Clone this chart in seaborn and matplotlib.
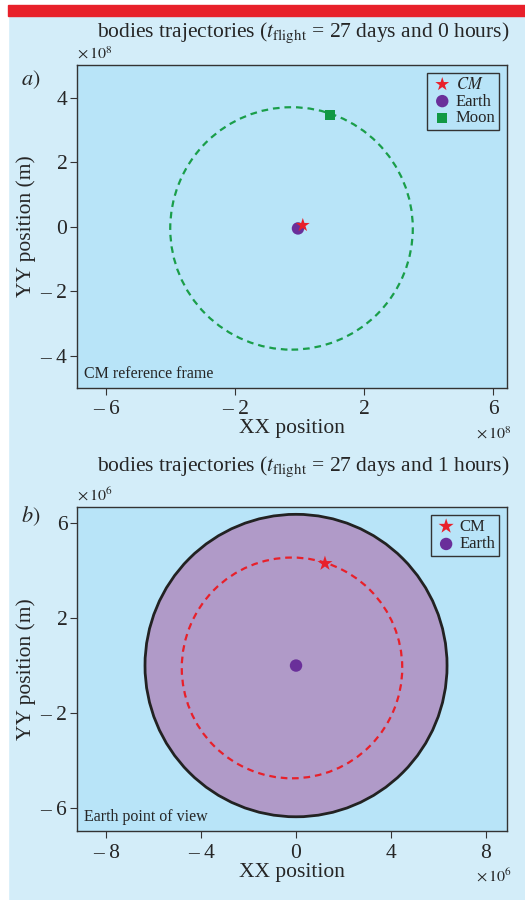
import numpy as np
import pandas as pd
import seaborn as sns
import matplotlib
matplotlib.use("Agg")
import matplotlib.pyplot as plt
from matplotlib.patches import Circle, Rectangle

# panel a) CM reference frame (m)
bodies_a = ["$CM$", "Earth", "Moon"]
pos_x_a = [0.10e8, -0.05e8, 0.94e8]
pos_y_a = [0.05e8, -0.05e8, 3.47e8]
moon_orbit_center = [-0.25e8, -0.05e8]
moon_orbit_radius = 3.76e8

# panel b) Earth point of view (m)
bodies_b = ["CM", "Earth"]
pos_x_b = [1.22e6, 0.0]
pos_y_b = [4.30e6, 0.0]
cm_orbit_center = [-0.17e6, -0.10e6]
cm_orbit_radius = 4.65e6
earth_radius = 6.371e6

ticks_a_x = [-6e8, -2e8, 2e8, 6e8]
ticks_a_x_lab = ["\u2013 6", "\u2013 2", "2", "6"]
ticks_a_y = [-4e8, -2e8, 0, 2e8, 4e8]
ticks_a_y_lab = ["\u2013 4", "\u2013 2", "0", "2", "4"]
ticks_b_x = [-8e6, -4e6, 0, 4e6, 8e6]
ticks_b_x_lab = ["\u2013 8", "\u2013 4", "0", "4", "8"]
ticks_b_y = [-6e6, -2e6, 2e6, 6e6]
ticks_b_y_lab = ["\u2013 6", "\u2013 2", "2", "6"]

titles = ["bodies trajectories ($t_{\\rm flight}$ = 27 days and 0 hours)",
          "bodies trajectories ($t_{\\rm flight}$ = 27 days and 1 hours)"]

colors = {"$CM$": "#e8202a", "CM": "#e8202a", "Earth": "#6a2f9a", "Moon": "#119944"}
markers = {"$CM$": "*", "CM": "*", "Earth": "o", "Moon": "s"}
sizes = {"$CM$": 110, "CM": 130, "Earth": 80, "Moon": 55}

sns.set_style("ticks")
plt.rcParams["font.family"] = ["Liberation Serif", "DejaVu Serif"]
plt.rcParams["mathtext.fontset"] = "stix"

fig_bg = "#d3edf9"
ax_bg = "#b8e4f8"
fig = plt.figure(figsize=(5.25, 9), dpi=100, facecolor=fig_bg)
# white margin and red bar at top
fig.patches.append(Rectangle((0, 0), 8 / 525, 1, transform=fig.transFigure,
                             color="white", zorder=-1))
fig.patches.append(Rectangle((0, 1 - 5 / 900), 1, 5 / 900, transform=fig.transFigure,
                             color="white", zorder=-1))
fig.patches.append(Rectangle((8 / 525, 1 - 16 / 900), 1, 11 / 900,
                             transform=fig.transFigure, color="#e8202a", zorder=-1))

ax1 = fig.add_axes([77 / 525, 1 - 388 / 900, 430 / 525, 323 / 900])
ax2 = fig.add_axes([77 / 525, 1 - 831 / 900, 430 / 525, 324 / 900])

def style_axis(ax, xt, xl, yt, yl, xlim, ylim, exp):
    ax.set_facecolor(ax_bg)
    for s in ax.spines.values():
        s.set_color("#333333")
        s.set_linewidth(1.0)
    ax.set_xlim(*xlim)
    ax.set_ylim(*ylim)
    ax.set_xticks(xt)
    ax.set_xticklabels(xl)
    ax.set_yticks(yt)
    ax.set_yticklabels(yl)
    ax.tick_params(direction="out", length=5, width=0.8, labelsize=15.5, color="#333333", pad=2)
    ax.tick_params(axis="x", pad=4)
    ax.set_xlabel("XX position", fontsize=15.5, labelpad=0)
    ax.set_ylabel("YY position (m)", fontsize=15.5, labelpad=3)
    ax.text(0.0, 1.008, "$\\times\\,10^{%d}$" % exp, transform=ax.transAxes,
            fontsize=11.5, ha="left", va="bottom")
    ax.text(1.01, -0.168, "$\\times\\,10^{%d}$" % exp, transform=ax.transAxes,
            fontsize=11.5, ha="right", va="bottom")

# panel a
ax1.add_patch(Circle(moon_orbit_center, moon_orbit_radius, fill=False,
                     edgecolor="#1a9e4a", lw=1.6, ls=(0, (3, 2.2)), zorder=2))
df_a = pd.DataFrame({"x": pos_x_a, "y": pos_y_a, "body": bodies_a})
for b in ["Earth", "$CM$", "Moon"]:
    d = df_a[df_a.body == b]
    sns.scatterplot(data=d, x="x", y="y", ax=ax1, color=colors[b], marker=markers[b],
                    s=sizes[b], edgecolor="none", label=b, zorder=3)
style_axis(ax1, ticks_a_x, ticks_a_x_lab, ticks_a_y, ticks_a_y_lab,
           (-6.9e8, 6.43e8), (-5.0e8, 5.02e8), 8)
h, l = ax1.get_legend_handles_labels()
order = [l.index("$CM$"), l.index("Earth"), l.index("Moon")]
leg = ax1.legend([h[i] for i in order], [l[i] for i in order], loc="upper right",
                 fontsize=12, fancybox=False, edgecolor="#333333", facecolor=ax_bg,
                 framealpha=1, handletextpad=0.1, borderpad=0.2, labelspacing=0.05,
                 handlelength=1.4, borderaxespad=0.5)
leg.get_frame().set_linewidth(1.0)
ax1.text(0.016, 0.03, "CM reference frame", transform=ax1.transAxes, fontsize=11.5)

# panel b
ax2.add_patch(Circle((pos_x_b[1], pos_y_b[1]), earth_radius, facecolor="#b09ac8",
                     edgecolor="#222222", lw=2, zorder=1))
ax2.add_patch(Circle(cm_orbit_center, cm_orbit_radius, fill=False,
                     edgecolor="#e8202a", lw=1.6, ls=(0, (3, 2.2)), zorder=2))
df_b = pd.DataFrame({"x": pos_x_b, "y": pos_y_b, "body": bodies_b})
for b in bodies_b:
    d = df_b[df_b.body == b]
    sns.scatterplot(data=d, x="x", y="y", ax=ax2, color=colors[b], marker=markers[b],
                    s=sizes[b], edgecolor="none", label=b, zorder=3)
style_axis(ax2, ticks_b_x, ticks_b_x_lab, ticks_b_y, ticks_b_y_lab,
           (-9.24e6, 8.9e6), (-6.97e6, 6.68e6), 6)
leg = ax2.legend(loc="upper right", fontsize=12, fancybox=False, edgecolor="#333333",
                 facecolor=ax_bg, framealpha=1, handletextpad=0.1, borderpad=0.2,
                 labelspacing=0.1, handlelength=1.4, borderaxespad=0.5)
leg.get_frame().set_linewidth(1.0)
ax2.text(0.016, 0.03, "Earth point of view", transform=ax2.transAxes, fontsize=11.5)

# titles and panel letters
fig.text(0.97, 1 - 33 / 900, titles[0], fontsize=15.5, ha="right", va="center")
fig.text(0.97, 1 - 467 / 900, titles[1], fontsize=15.5, ha="right", va="center")
fig.text(21 / 525, 1 - 80 / 900, "$a)$", fontsize=16, ha="left", va="center")
fig.text(21 / 525, 1 - 516 / 900, "$b)$", fontsize=16, ha="left", va="center")

fig.savefig("out.png", dpi=100, facecolor=fig_bg)
